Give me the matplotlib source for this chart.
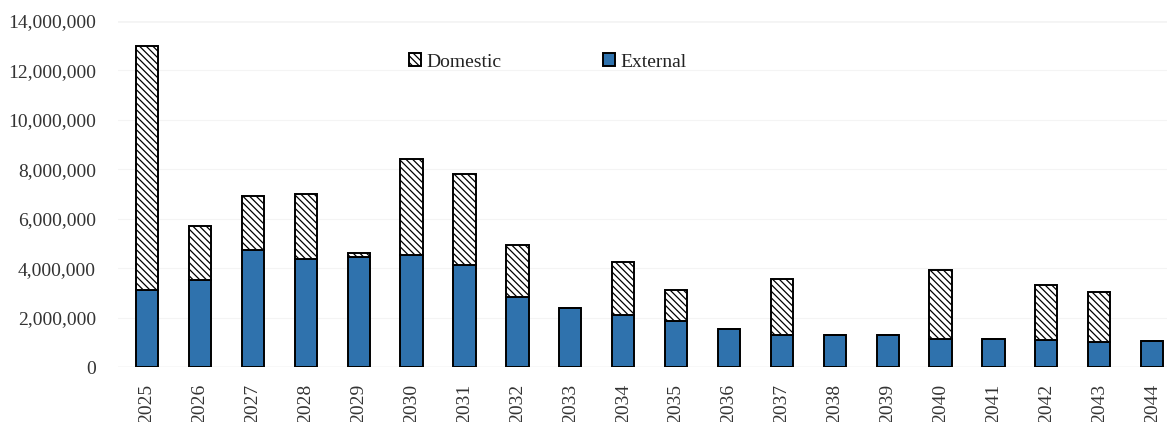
import matplotlib.pyplot as plt
from matplotlib.patches import Patch
from matplotlib.ticker import FuncFormatter

years = [str(y) for y in range(2025, 2045)]
external = [3.10e6, 3.54e6, 4.75e6, 4.39e6, 4.45e6, 4.52e6, 4.13e6, 2.82e6, 2.37e6, 2.12e6,
            1.85e6, 1.52e6, 1.31e6, 1.31e6, 1.31e6, 1.14e6, 1.14e6, 1.08e6, 1.02e6, 1.04e6]
totals = [12.97e6, 5.71e6, 6.92e6, 7.00e6, 4.61e6, 8.42e6, 7.81e6, 4.95e6, 2.37e6, 4.25e6,
          3.10e6, 1.52e6, 3.56e6, 1.31e6, 1.31e6, 3.94e6, 1.14e6, 3.32e6, 3.05e6, 1.04e6]
domestic = [t - e for t, e in zip(totals, external)]

blue = "#2f72ad"
plt.rcParams["font.family"] = ["Liberation Serif", "DejaVu Serif"]
plt.rcParams["hatch.linewidth"] = 0.9

fig = plt.figure(figsize=(11.67, 4.22), dpi=100)
ax = fig.add_axes([118 / 1167, 55 / 422, 1049 / 1167, 346 / 422])

x = range(len(years))
ax.bar(x, external, width=0.42, color=blue, edgecolor="black", linewidth=1.4, zorder=3)
ax.bar(x, domestic, width=0.42, bottom=external, color="white", edgecolor="black",
       hatch="\\\\\\\\\\", linewidth=1.4, zorder=3)

ax.set_xlim(-0.55, 19.28)
ax.set_ylim(0, 14e6)
ax.set_yticks(range(0, 14000001, 2000000))
ax.yaxis.set_major_formatter(FuncFormatter(lambda v, p: f"{int(v):,}"))
ax.set_xticks(list(x))
ax.set_xticklabels(years, rotation=90)
ax.tick_params(axis="both", length=0, labelsize=14, colors="#333333")
ax.tick_params(axis="y", pad=16)
ax.tick_params(axis="x", pad=12)
for s in ax.spines.values():
    s.set_visible(False)
ax.grid(axis="y", color="#f4f4f4", linewidth=0.8, zorder=0)
ax.axhline(14e6, color="#d4d4d4", linewidth=1.0, zorder=1)
ax.axhline(0, color="#e2e2e2", linewidth=1.0, zorder=1)

handles = [Patch(facecolor="white", edgecolor="black", hatch="\\\\\\\\\\", linewidth=1.4),
           Patch(facecolor=blue, edgecolor="black", linewidth=1.4)]
ax.legend(handles, ["Domestic", "External"], ncol=2, frameon=False, fontsize=14,
          loc="center", bbox_to_anchor=((548 - 118) / 1049, (367 - 62) / 346),
          handlelength=0.6, handleheight=0.6, handletextpad=0.3, columnspacing=5.2,
          labelcolor="#222222")

fig.savefig("out.png", dpi=100, facecolor="white")
